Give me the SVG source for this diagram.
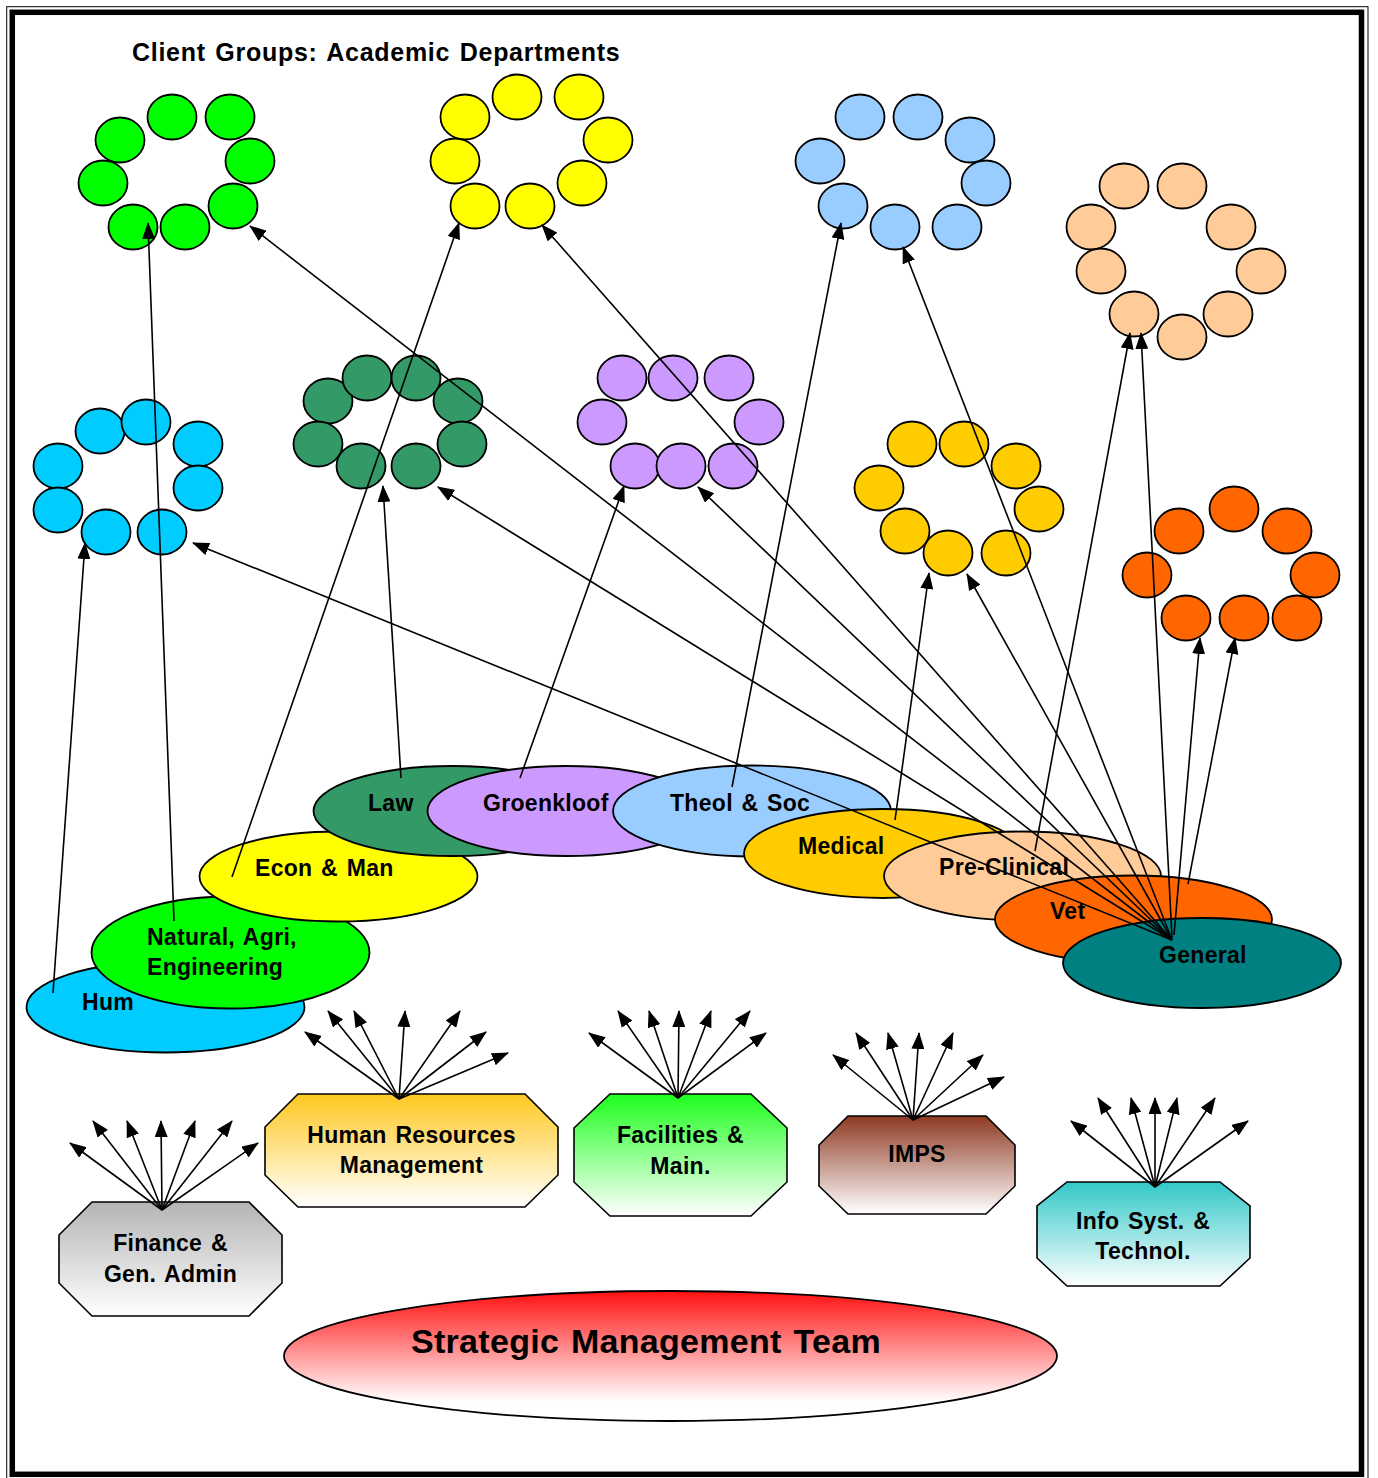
<svg xmlns="http://www.w3.org/2000/svg" width="1378" height="1478" viewBox="0 0 1378 1478">
  <defs>
    <style>
      .c { stroke: #000; stroke-width: 1.8; }
      .dept { stroke: #000; stroke-width: 1.8; }
      .oct { stroke: #000; stroke-width: 1.6; }
      .lbl { font-family: "Liberation Sans", Arial, sans-serif; font-weight: bold; font-size: 23px; fill: #000; letter-spacing: 0.3px; word-spacing: 2px; }
      .mid { text-anchor: middle; }
      #connectors line { stroke: #000; stroke-width: 1.6; marker-end: url(#ah); }
      .green { fill: #00ff00; } .yellow { fill: #ffff00; } .lblue { fill: #99ccff; }
      .peach { fill: #ffcc99; } .orange { fill: #ff6600; } .cyan { fill: #00ccff; }
      .dgreen { fill: #339966; } .purple { fill: #cc99ff; } .gold { fill: #ffcc00; }
      .teal { fill: #008080; }
    </style>
    <marker id="ah" markerUnits="userSpaceOnUse" markerWidth="17" markerHeight="13" refX="16" refY="6.5" orient="auto">
      <path d="M0,0 L17,6.5 L0,13 z" fill="#000"/>
    </marker>
    <linearGradient id="gFin" x1="0" y1="0" x2="0" y2="1">
      <stop offset="0" stop-color="#b4b4b4"/><stop offset="1" stop-color="#ffffff"/>
    </linearGradient>
    <linearGradient id="gHR" x1="0" y1="0" x2="0" y2="1">
      <stop offset="0" stop-color="#ffc820"/><stop offset="1" stop-color="#ffffff"/>
    </linearGradient>
    <linearGradient id="gFac" x1="0" y1="0" x2="0" y2="1">
      <stop offset="0" stop-color="#1eff1e"/><stop offset="1" stop-color="#ffffff"/>
    </linearGradient>
    <linearGradient id="gImps" x1="0" y1="0" x2="0" y2="1">
      <stop offset="0" stop-color="#8e3a22"/><stop offset="1" stop-color="#ffffff"/>
    </linearGradient>
    <linearGradient id="gInfo" x1="0" y1="0" x2="0" y2="1">
      <stop offset="0" stop-color="#33c8c8"/><stop offset="1" stop-color="#ffffff"/>
    </linearGradient>
    <linearGradient id="gSmt" x1="0" y1="0" x2="0" y2="1">
      <stop offset="0" stop-color="#ff1010"/><stop offset="0.85" stop-color="#ffffff"/><stop offset="1" stop-color="#ffffff"/>
    </linearGradient>
  </defs>

  <rect x="0" y="0" width="1378" height="1478" fill="#ffffff"/>

  <!-- double frame -->
  <rect x="6.7" y="6.7" width="1361.3" height="1480" fill="none" stroke="#000" stroke-width="1"/>
  <rect x="12.3" y="12.3" width="1349.2" height="1462" fill="none" stroke="#000" stroke-width="5.5"/>

  <text id="title" class="lbl" x="132" y="61" style="font-size:25px" textLength="488" lengthAdjust="spacing">Client Groups: Academic Departments</text>

  <!-- department client clusters -->
  <g id="cluster-natural" class="c green">
    <ellipse cx="172" cy="117" rx="24.5" ry="22.5"/><ellipse cx="230" cy="117" rx="24.5" ry="22.5"/>
    <ellipse cx="120" cy="140" rx="24.5" ry="22.5"/><ellipse cx="250" cy="161" rx="24.5" ry="22.5"/>
    <ellipse cx="103" cy="183" rx="24.5" ry="22.5"/><ellipse cx="233" cy="206" rx="24.5" ry="22.5"/>
    <ellipse cx="133" cy="227" rx="24.5" ry="22.5"/><ellipse cx="185" cy="227" rx="24.5" ry="22.5"/>
  </g>
  <g id="cluster-econ" class="c yellow">
    <ellipse cx="517" cy="97" rx="24.5" ry="22.5"/><ellipse cx="579" cy="97" rx="24.5" ry="22.5"/>
    <ellipse cx="465" cy="117" rx="24.5" ry="22.5"/><ellipse cx="608" cy="140" rx="24.5" ry="22.5"/>
    <ellipse cx="455" cy="161" rx="24.5" ry="22.5"/><ellipse cx="582" cy="183" rx="24.5" ry="22.5"/>
    <ellipse cx="475" cy="206" rx="24.5" ry="22.5"/><ellipse cx="530" cy="206" rx="24.5" ry="22.5"/>
  </g>
  <g id="cluster-theol" class="c lblue">
    <ellipse cx="860" cy="117" rx="24.5" ry="22.5"/><ellipse cx="918" cy="117" rx="24.5" ry="22.5"/>
    <ellipse cx="970" cy="140" rx="24.5" ry="22.5"/><ellipse cx="820" cy="161" rx="24.5" ry="22.5"/>
    <ellipse cx="986" cy="183" rx="24.5" ry="22.5"/><ellipse cx="843" cy="206" rx="24.5" ry="22.5"/>
    <ellipse cx="895" cy="227" rx="24.5" ry="22.5"/><ellipse cx="957" cy="227" rx="24.5" ry="22.5"/>
  </g>
  <g id="cluster-preclinical" class="c peach">
    <ellipse cx="1124" cy="186" rx="24.5" ry="22.5"/><ellipse cx="1182" cy="186" rx="24.5" ry="22.5"/>
    <ellipse cx="1091" cy="227" rx="24.5" ry="22.5"/><ellipse cx="1231" cy="227" rx="24.5" ry="22.5"/>
    <ellipse cx="1101" cy="271" rx="24.5" ry="22.5"/><ellipse cx="1261" cy="271" rx="24.5" ry="22.5"/>
    <ellipse cx="1134" cy="314" rx="24.5" ry="22.5"/><ellipse cx="1228" cy="314" rx="24.5" ry="22.5"/>
    <ellipse cx="1182" cy="337" rx="24.5" ry="22.5"/>
  </g>
  <g id="cluster-vet" class="c orange">
    <ellipse cx="1234" cy="509" rx="24.5" ry="22.5"/><ellipse cx="1179" cy="531" rx="24.5" ry="22.5"/>
    <ellipse cx="1287" cy="531" rx="24.5" ry="22.5"/><ellipse cx="1147" cy="575" rx="24.5" ry="22.5"/>
    <ellipse cx="1315" cy="575" rx="24.5" ry="22.5"/><ellipse cx="1186" cy="618" rx="24.5" ry="22.5"/>
    <ellipse cx="1244" cy="618" rx="24.5" ry="22.5"/><ellipse cx="1297" cy="618" rx="24.5" ry="22.5"/>
  </g>
  <g id="cluster-hum" class="c cyan">
    <ellipse cx="100" cy="431" rx="24.5" ry="22.5"/><ellipse cx="146" cy="422" rx="24.5" ry="22.5"/>
    <ellipse cx="198" cy="444" rx="24.5" ry="22.5"/><ellipse cx="58" cy="466" rx="24.5" ry="22.5"/>
    <ellipse cx="198" cy="488" rx="24.5" ry="22.5"/><ellipse cx="58" cy="510" rx="24.5" ry="22.5"/>
    <ellipse cx="106" cy="532" rx="24.5" ry="22.5"/><ellipse cx="162" cy="532" rx="24.5" ry="22.5"/>
  </g>
  <g id="cluster-law" class="c dgreen">
    <ellipse cx="328" cy="401" rx="24.5" ry="22.5"/><ellipse cx="367" cy="378" rx="24.5" ry="22.5"/>
    <ellipse cx="416" cy="378" rx="24.5" ry="22.5"/><ellipse cx="458" cy="401" rx="24.5" ry="22.5"/>
    <ellipse cx="318" cy="444" rx="24.5" ry="22.5"/><ellipse cx="462" cy="444" rx="24.5" ry="22.5"/>
    <ellipse cx="361" cy="466" rx="24.5" ry="22.5"/><ellipse cx="416" cy="466" rx="24.5" ry="22.5"/>
  </g>
  <g id="cluster-groenkloof" class="c purple">
    <ellipse cx="622" cy="378" rx="24.5" ry="22.5"/><ellipse cx="673" cy="378" rx="24.5" ry="22.5"/>
    <ellipse cx="729" cy="378" rx="24.5" ry="22.5"/><ellipse cx="602" cy="422" rx="24.5" ry="22.5"/>
    <ellipse cx="759" cy="422" rx="24.5" ry="22.5"/><ellipse cx="635" cy="466" rx="24.5" ry="22.5"/>
    <ellipse cx="681" cy="466" rx="24.5" ry="22.5"/><ellipse cx="733" cy="466" rx="24.5" ry="22.5"/>
  </g>
  <g id="cluster-medical" class="c gold">
    <ellipse cx="912" cy="444" rx="24.5" ry="22.5"/><ellipse cx="964" cy="444" rx="24.5" ry="22.5"/>
    <ellipse cx="1016" cy="466" rx="24.5" ry="22.5"/><ellipse cx="879" cy="488" rx="24.5" ry="22.5"/>
    <ellipse cx="1039" cy="509" rx="24.5" ry="22.5"/><ellipse cx="905" cy="531" rx="24.5" ry="22.5"/>
    <ellipse cx="948" cy="553" rx="24.5" ry="22.5"/><ellipse cx="1006" cy="553" rx="24.5" ry="22.5"/>
  </g>

  <!-- faculties, stacked left to right -->
  <g id="dept-hum">
    <ellipse class="dept cyan" cx="165.5" cy="1007" rx="139" ry="45.5"/>
    <text class="lbl" x="82" y="1010">Hum</text>
  </g>
  <g id="dept-natural">
    <ellipse class="dept green" cx="230.5" cy="952.5" rx="139" ry="56"/>
    <text class="lbl" x="147" y="945">Natural, Agri,</text>
    <text class="lbl" x="147" y="975">Engineering</text>
  </g>
  <g id="dept-econ">
    <ellipse class="dept yellow" cx="338.5" cy="876.5" rx="139" ry="45"/>
    <text class="lbl" x="255" y="876">Econ &amp; Man</text>
  </g>
  <g id="dept-law">
    <ellipse class="dept dgreen" cx="452.5" cy="811" rx="139" ry="45"/>
    <text class="lbl" x="368" y="811">Law</text>
  </g>
  <g id="dept-groenkloof">
    <ellipse class="dept purple" cx="566.5" cy="811" rx="139" ry="45"/>
    <text class="lbl" x="483" y="811">Groenkloof</text>
  </g>
  <g id="dept-theol">
    <ellipse class="dept lblue" cx="752" cy="811" rx="139" ry="45.5"/>
    <text class="lbl" x="670" y="811">Theol &amp; Soc</text>
  </g>
  <g id="dept-medical">
    <ellipse class="dept gold" cx="883" cy="853.5" rx="139" ry="44.5"/>
    <text class="lbl" x="798" y="854">Medical</text>
  </g>
  <g id="dept-preclinical">
    <ellipse class="dept peach" cx="1022.5" cy="876" rx="138.5" ry="44.5"/>
    <text class="lbl" x="939" y="875">Pre-Clinical</text>
  </g>
  <g id="dept-vet">
    <ellipse class="dept orange" cx="1133.5" cy="919.5" rx="138.5" ry="44"/>
    <text class="lbl" x="1050" y="919">Vet</text>
  </g>
  <g id="dept-general">
    <ellipse class="dept teal" cx="1202" cy="963" rx="139" ry="45"/>
    <text class="lbl" x="1159" y="963">General</text>
  </g>

  <!-- support services -->
  <g id="svc-finance">
    <polygon class="oct" fill="url(#gFin)" points="92,1202 249,1202 282,1235 282,1283 249,1316 92,1316 59,1283 59,1235"/>
    <text class="lbl mid" x="170.5" y="1251">Finance &amp;</text>
    <text class="lbl mid" x="170.5" y="1282">Gen. Admin</text>
  </g>
  <g id="svc-hr">
    <polygon class="oct" fill="url(#gHR)" points="298,1094 525,1094 558,1127 558,1175 525,1207 298,1207 265,1175 265,1127"/>
    <text class="lbl mid" x="411.5" y="1143">Human Resources</text>
    <text class="lbl mid" x="411.5" y="1173">Management</text>
  </g>
  <g id="svc-facilities">
    <polygon class="oct" fill="url(#gFac)" points="610,1094 751,1094 787,1128 787,1182 751,1216 610,1216 574,1182 574,1128"/>
    <text class="lbl mid" x="680.5" y="1143">Facilities &amp;</text>
    <text class="lbl mid" x="680.5" y="1174">Main.</text>
  </g>
  <g id="svc-imps">
    <polygon class="oct" fill="url(#gImps)" points="848,1116 986,1116 1015,1145 1015,1186 986,1214 848,1214 819,1186 819,1145"/>
    <text class="lbl mid" x="917" y="1162">IMPS</text>
  </g>
  <g id="svc-info">
    <polygon class="oct" fill="url(#gInfo)" points="1067,1182 1220,1182 1250,1206 1250,1258 1220,1286 1067,1286 1037,1258 1037,1206"/>
    <text class="lbl mid" x="1143" y="1229">Info Syst. &amp;</text>
    <text class="lbl mid" x="1143" y="1259">Technol.</text>
  </g>

  <g id="smt">
    <ellipse cx="670.5" cy="1356" rx="386.5" ry="65" fill="url(#gSmt)" stroke="#000" stroke-width="1.8"/>
    <text class="lbl mid" x="646" y="1353" style="font-size:34px">Strategic Management Team</text>
  </g>

  <!-- connectors -->
  <g id="connectors">
    <!-- faculty to own clients -->
    <line x1="53" y1="993" x2="85" y2="543"/>
    <line x1="174" y1="921" x2="148" y2="223"/>
    <line x1="232" y1="877" x2="459" y2="223"/>
    <line x1="401" y1="778" x2="383" y2="486"/>
    <line x1="520" y1="778" x2="624" y2="486"/>
    <line x1="732" y1="787" x2="841" y2="223"/>
    <line x1="895" y1="820" x2="929" y2="573"/>
    <line x1="1035" y1="851" x2="1130" y2="333"/>
    <line x1="1188" y1="884" x2="1235" y2="638"/>
    <!-- General to every cluster -->
    <line x1="1172" y1="940" x2="250" y2="226"/>
    <line x1="1172" y1="940" x2="542" y2="225"/>
    <line x1="1172" y1="940" x2="903" y2="247"/>
    <line x1="1172" y1="938" x2="1141" y2="333"/>
    <line x1="1174" y1="935" x2="1200" y2="638"/>
    <line x1="1172" y1="940" x2="193" y2="543"/>
    <line x1="1172" y1="940" x2="438" y2="487"/>
    <line x1="1172" y1="940" x2="698" y2="487"/>
    <line x1="1172" y1="940" x2="967" y2="574"/>
    <!-- Finance fan -->
    <line x1="162" y1="1210" x2="70" y2="1143"/>
    <line x1="162" y1="1210" x2="93" y2="1121"/>
    <line x1="162" y1="1210" x2="127" y2="1121"/>
    <line x1="162" y1="1210" x2="161" y2="1121"/>
    <line x1="162" y1="1210" x2="195" y2="1121"/>
    <line x1="162" y1="1210" x2="232" y2="1121"/>
    <line x1="162" y1="1210" x2="258" y2="1143"/>
    <!-- HR fan -->
    <line x1="399" y1="1099" x2="305" y2="1032"/>
    <line x1="399" y1="1099" x2="328" y2="1011"/>
    <line x1="399" y1="1099" x2="354" y2="1011"/>
    <line x1="399" y1="1099" x2="405" y2="1011"/>
    <line x1="399" y1="1099" x2="460" y2="1011"/>
    <line x1="399" y1="1099" x2="486" y2="1032"/>
    <line x1="399" y1="1099" x2="508" y2="1053"/>
    <!-- Facilities fan -->
    <line x1="678" y1="1098" x2="589" y2="1033"/>
    <line x1="678" y1="1098" x2="618" y2="1011"/>
    <line x1="678" y1="1098" x2="649" y2="1011"/>
    <line x1="678" y1="1098" x2="679" y2="1011"/>
    <line x1="678" y1="1098" x2="711" y2="1011"/>
    <line x1="678" y1="1098" x2="750" y2="1011"/>
    <line x1="678" y1="1098" x2="766" y2="1033"/>
    <!-- IMPS fan -->
    <line x1="913" y1="1120" x2="833" y2="1055"/>
    <line x1="913" y1="1120" x2="856" y2="1033"/>
    <line x1="913" y1="1120" x2="888" y2="1033"/>
    <line x1="913" y1="1120" x2="919" y2="1033"/>
    <line x1="913" y1="1120" x2="953" y2="1033"/>
    <line x1="913" y1="1120" x2="983" y2="1055"/>
    <line x1="913" y1="1120" x2="1004" y2="1077"/>
    <!-- Info fan -->
    <line x1="1155" y1="1187" x2="1071" y2="1121"/>
    <line x1="1155" y1="1187" x2="1098" y2="1098"/>
    <line x1="1155" y1="1187" x2="1131" y2="1098"/>
    <line x1="1155" y1="1187" x2="1155" y2="1098"/>
    <line x1="1155" y1="1187" x2="1177" y2="1098"/>
    <line x1="1155" y1="1187" x2="1215" y2="1098"/>
    <line x1="1155" y1="1187" x2="1248" y2="1121"/>
  </g>
</svg>
